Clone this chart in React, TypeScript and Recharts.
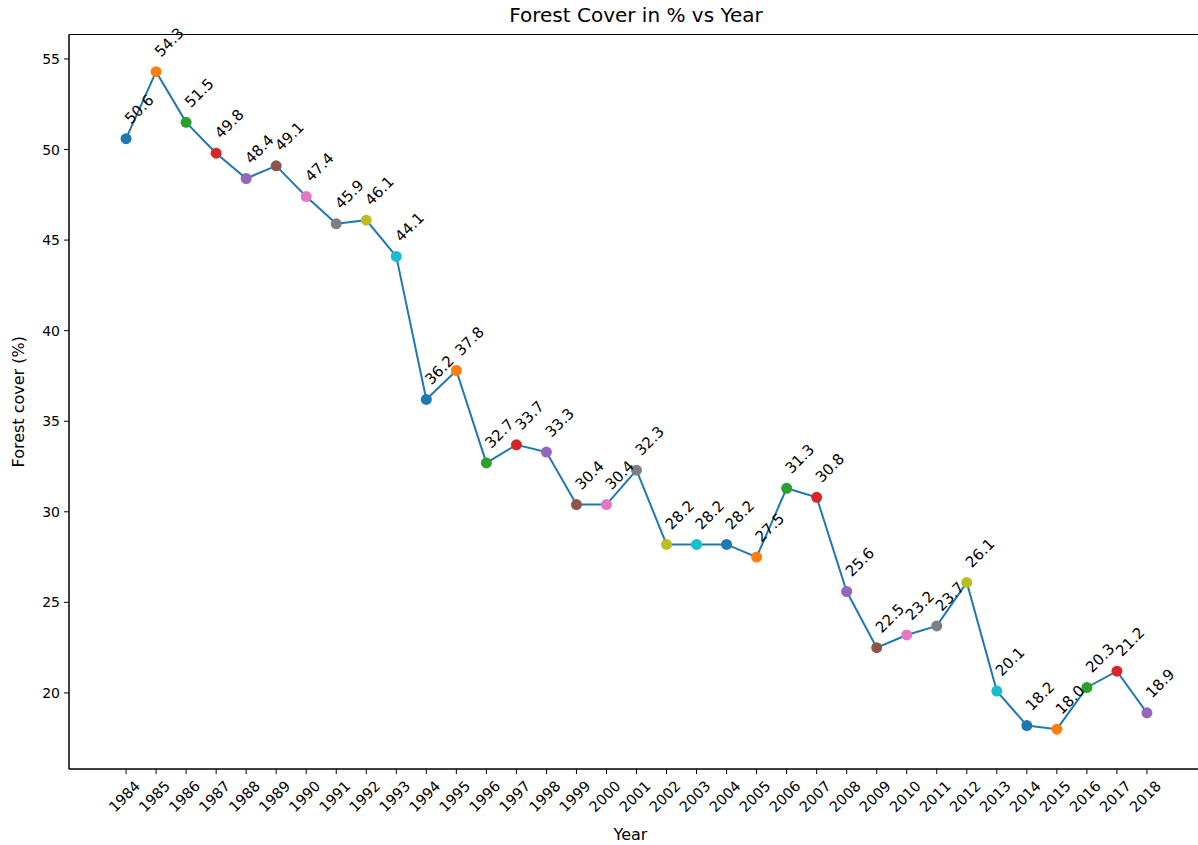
import { LineChart, Line, XAxis, YAxis, LabelList, ReferenceArea } from 'recharts';

const years = [
    1984, 1985, 1986, 1987, 1988, 1989, 1990, 1991, 1992, 1993, 1994, 1995,
    1996, 1997, 1998, 1999, 2000, 2001, 2002, 2003, 2004, 2005, 2006, 2007,
    2008, 2009, 2010, 2011, 2012, 2013, 2014, 2015, 2016, 2017, 2018,
];

const cover = [
    50.6, 54.3, 51.5, 49.8, 48.4, 49.1, 47.4, 45.9, 46.1, 44.1, 36.2, 37.8,
    32.7, 33.7, 33.3, 30.4, 30.4, 32.3, 28.2, 28.2, 28.2, 27.5, 31.3, 30.8,
    25.6, 22.5, 23.2, 23.7, 26.1, 20.1, 18.2, 18.0, 20.3, 21.2, 18.9,
];

const yTicks = [20, 25, 30, 35, 40, 45, 50, 55];

// matplotlib tab10 cycle
const COLORS = ['#1f77b4', '#ff7f0e', '#2ca02c', '#d62728', '#9467bd', '#8c564b', '#e377c2', '#7f7f7f', '#bcbd22', '#17becf'];

const X_DOMAIN: [number, number] = [1982.1, 2019.9];
const Y_DOMAIN: [number, number] = [15.8, 56.35];
const FONT = 'DejaVu Sans';

const data = years.map((year, i) => ({ year, value: cover[i] }));

const XTick = ({ x, y, payload }: any) => (
    <text
        x={x + 15}
        y={y + 11}
        transform={`rotate(-45, ${x + 15}, ${y + 11})`}
        textAnchor="end"
        fontFamily={FONT}
        fontSize={14.5}
        fill="#000"
    >
        {payload.value}
    </text>
);

const YTick = ({ x, y, payload }: any) => (
    <text x={x} y={y + 5} textAnchor="end" fontFamily={FONT} fontSize={14} fill="#000">
        {payload.value}
    </text>
);

const PointLabel = ({ x, y, value }: any) => (
    <text
        x={x + 5}
        y={y - 14}
        transform={`rotate(-45, ${x + 5}, ${y - 14})`}
        textAnchor="start"
        fontFamily={FONT}
        fontSize={15}
        fill="#000"
    >
        {Number(value).toFixed(1)}
    </text>
);

const Dot = ({ cx, cy, index }: any) => (
    <circle key={`dot-${index}`} cx={cx} cy={cy} r={5.5} fill={COLORS[index % COLORS.length]} stroke="none" />
);

export default function App() {
    return (
        <div style={{ position: 'fixed', top: 0, left: 0, width: 1198, height: 845, overflow: 'hidden', background: '#fff' }}>
            <div
                style={{
                    position: 'absolute',
                    top: 3,
                    left: 436,
                    width: 400,
                    textAlign: 'center',
                    fontFamily: FONT,
                    fontSize: 20,
                    lineHeight: '24px',
                    color: '#000',
                }}
            >
                Forest Cover in % vs Year
            </div>
            <LineChart width={1210} height={845} data={data} margin={{ top: 34.5, right: 6, left: 9, bottom: 16 }}>
                <XAxis
                    dataKey="year"
                    type="number"
                    domain={X_DOMAIN}
                    ticks={years}
                    interval={0}
                    height={60}
                    tick={<XTick />}
                    tickSize={5}
                    tickMargin={2}
                    axisLine={{ stroke: '#000' }}
                    tickLine={{ stroke: '#000' }}
                    label={{
                        content: ({ viewBox }: any) => (
                            <text x={viewBox.x + viewBox.width / 2 - 6} y={840} textAnchor="middle" fontFamily={FONT} fontSize={16} fill="#000">
                                Year
                            </text>
                        ),
                    }}
                />
                <YAxis
                    type="number"
                    domain={Y_DOMAIN}
                    ticks={yTicks}
                    width={60}
                    tick={<YTick />}
                    tickSize={5}
                    tickMargin={4}
                    axisLine={{ stroke: '#000' }}
                    tickLine={{ stroke: '#000' }}
                    label={{
                        content: ({ viewBox }: any) => {
                            const cy = viewBox.y + viewBox.height / 2;
                            return (
                                <text x={24} y={cy} transform={`rotate(-90, 24, ${cy})`} textAnchor="middle" fontFamily={FONT} fontSize={16} fill="#000">
                                    Forest cover (%)
                                </text>
                            );
                        },
                    }}
                />
                <ReferenceArea x1={X_DOMAIN[0]} x2={X_DOMAIN[1]} y1={Y_DOMAIN[0]} y2={Y_DOMAIN[1]} fill="none" stroke="#000" strokeWidth={1} />
                <Line dataKey="value" stroke="none" dot={Dot} activeDot={false} isAnimationActive={false}>
                    <LabelList dataKey="value" content={<PointLabel />} />
                </Line>
                <Line dataKey="value" stroke="#1f77b4" strokeWidth={2} dot={false} activeDot={false} isAnimationActive={false} />
            </LineChart>
        </div>
    );
}
